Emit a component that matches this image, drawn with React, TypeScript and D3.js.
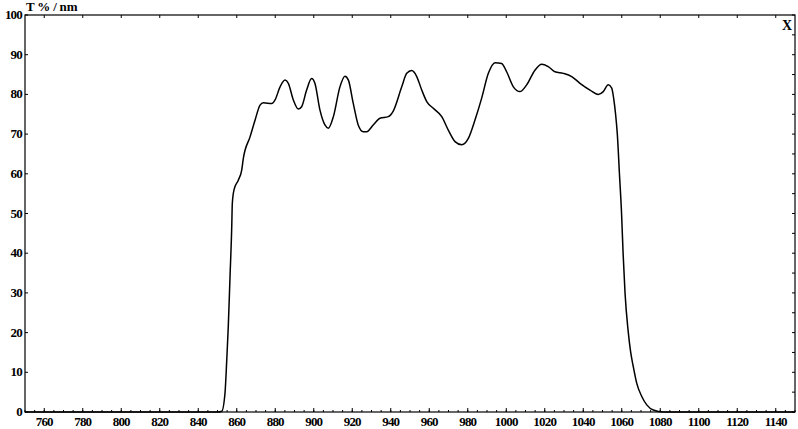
import * as React from 'react';
import * as d3 from 'd3';

// transmission curve (wavelength nm, T %)
const wavelengths: number[] = [
    750, 800, 850, 852.2, 853.9, 854.8, 855.6, 856.5, 857.4, 857.7, 858.6, 860.8, 862.6, 863.4,
    866.9, 869.5, 872.1, 873.8, 878.2, 879.9, 882.5, 885.1, 886.8, 889.4, 892.0, 893.7,
    896.3, 898.9, 900.6, 903.2, 905.8, 907.6, 910.2, 913.6, 916.2, 918.0, 920.5, 923.1,
    925.7, 927.5, 930.9, 934.4, 938.7, 941.3, 945.7, 948.3, 950.9, 953.5, 956.1, 958.7,
    962.1, 966.5, 969.9, 973.4, 976.9, 980.3, 983.8, 987.2, 990.7, 994.2, 997.6, 1000.2,
    1003.7, 1007.1, 1010.6, 1014.9, 1018.4, 1021.8, 1025.3, 1029.6, 1034.0, 1038.3, 1043.5,
    1047.8, 1050.4, 1053.0, 1054.8, 1055.8, 1056.8, 1057.7, 1058.8, 1059.9, 1060.7, 1061.7,
    1063.3, 1064.6, 1066.0, 1067.8, 1070.4, 1073.0, 1076.4, 1081.6, 1100, 1150
];
const transmission: number[] = [
    0, 0, 0, 0.2, 4.8, 13, 21.5, 34, 46.7, 52.6, 56, 58.4, 61, 63.8,
    69.3, 73.5, 77.3, 77.9, 77.7, 78.6, 81.9, 83.6, 82.8, 78.6, 76.3, 76.9,
    81.1, 84.0, 82.8, 76.1, 72.3, 71.5, 74.4, 81.9, 84.6, 83.6, 77.8, 72.3,
    70.6, 70.6, 72.3, 74, 74.4, 75.8, 81.9, 85.3, 86.0, 84.5, 81.1, 78.2,
    76.5, 74.4, 71.0, 68.1, 67.3, 68.9, 73.6, 79, 85.3, 88.0, 87.8, 85.7,
    81.9, 80.7, 82.4, 86.1, 87.6, 87.0, 85.7, 85.3, 84.5, 82.8, 81.1,
    80, 80.7, 82.4, 81.6, 79, 75, 70, 60, 50, 40, 30,
    20.5, 15.2, 11.4, 7.2, 3.9, 1.8, 0.5, 0, 0, 0
];

const xTicks: number[] = d3.range(760, 1141, 20);
const xMinorTicks: number[] = d3.range(750, 1151, 5);
const yTicks: number[] = d3.range(0, 101, 10);
const yMinorTicks: number[] = d3.range(0, 101, 5);

const yTitle = 'T % / nm';
const cornerLabel = 'X';

export default function App() {
    const width = 798;
    const height = 429;
    const margin = { top: 15, right: 3, bottom: 17, left: 25 };
    const innerW = width - margin.left - margin.right;
    const innerH = height - margin.top - margin.bottom;

    const xScale = d3.scaleLinear().domain([750, 1150]).range([0, innerW]);
    const yScale = d3.scaleLinear().domain([0, 100]).range([innerH, 0]);

    const points: [number, number][] = wavelengths.map((w, i) => [w, transmission[i]]);
    const line = d3.line<[number, number]>()
        .x((d) => xScale(d[0]))
        .y((d) => yScale(d[1]))
        .curve(d3.curveMonotoneX);

    const font = "'Liberation Serif', 'DejaVu Serif', serif";

    return (
        <svg width={width} height={height}
             style={{ position: 'absolute', left: 0, top: 0, background: '#fff' }}
             fontFamily={font} fontWeight="bold">
            <g transform={'translate(' + margin.left + ',' + margin.top + ')'}>
                <path d={line(points) || ''} fill="none" stroke="#000" strokeWidth={1.5} />
                <rect x={0} y={0} width={innerW} height={innerH} fill="none" stroke="#000" strokeWidth={1.2} />

                {xMinorTicks.map((t) => (
                    <line key={'xm' + t} x1={xScale(t)} x2={xScale(t)} y1={innerH} y2={innerH - 2}
                          stroke="#000" strokeWidth={1} />
                ))}
                {xTicks.map((t) => (
                    <g key={'x' + t}>
                        <line x1={xScale(t)} x2={xScale(t)} y1={innerH} y2={innerH - 4} stroke="#000" strokeWidth={1} />
                        <line x1={xScale(t)} x2={xScale(t)} y1={0} y2={3} stroke="#000" strokeWidth={1} />
                        <text x={xScale(t)} y={innerH + 14} textAnchor="middle" fontSize={13}
                              letterSpacing={-0.8}>{t}</text>
                    </g>
                ))}

                {yTicks.map((t) => (
                    <g key={'y' + t}>
                        <line x1={0} x2={3} y1={yScale(t)} y2={yScale(t)} stroke="#000" strokeWidth={1} />
                        <text x={-3} y={yScale(t) + 4} textAnchor="end" fontSize={13}
                              letterSpacing={-0.8}>{t}</text>
                    </g>
                ))}
                {yMinorTicks.map((t) => (
                    <line key={'yr' + t} x1={innerW} x2={innerW - 3} y1={yScale(t)} y2={yScale(t)}
                          stroke="#000" strokeWidth={1} />
                ))}

                <text x={1} y={-4} fontSize={13} letterSpacing={-0.2}>{yTitle}</text>
                <text x={innerW - 3} y={15} textAnchor="end" fontSize={14}>{cornerLabel}</text>
            </g>
        </svg>
    );
}
